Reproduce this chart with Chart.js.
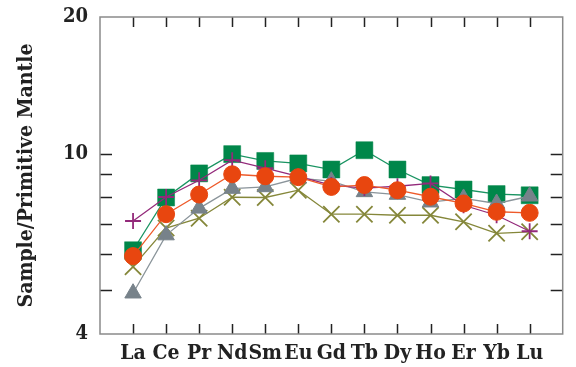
<!DOCTYPE html>
<html><head><meta charset="utf-8">
<script src="https://cdn.jsdelivr.net/npm/chart.js@4"></script>
<style>html,body{margin:0;padding:0;background:#fff}#wrap{width:576px;height:367px}</style>
</head><body><div id="wrap"><canvas id="c" width="576" height="367"></canvas></div>
<script>
const elements = ['La','Ce','Pr','Nd','Sm','Eu','Gd','Tb','Dy','Ho','Er','Yb','Lu'];
const yTickLabels = [4, 10, 20];
const yMinorTicks = [5, 6, 7, 8, 9, 10];
const seriesGreen  = [6.12, 8.00, 9.04, 9.97, 9.63, 9.51, 9.22, 10.17, 9.22, 8.52, 8.33, 8.14, 8.09];
const seriesPurple = [7.10, 8.02, 8.73, 9.67, 9.28, 8.91, 8.52, 8.39, 8.47, 8.59, 7.69, 7.31, 6.74];
const seriesOrange = [5.94, 7.35, 8.12, 9.00, 8.91, 8.87, 8.44, 8.52, 8.30, 8.03, 7.76, 7.44, 7.40];
const seriesGray   = [4.92, 6.61, 7.57, 8.37, 8.44, 8.82, 8.69, 8.23, 8.12, 7.81, 7.96, 7.76, 8.05];
const seriesOlive  = [5.63, 6.85, 7.20, 8.01, 8.00, 8.30, 7.35, 7.35, 7.31, 7.31, 7.07, 6.67, 6.72];

const toPts = arr => arr.map((v, i) => ({x: i + 1, y: v}));
const FONT = "'DejaVu Serif Condensed', 'DejaVu Serif', serif";

const framePlugin = {
  id: 'frame',
  beforeDatasetsDraw(chart) {
    const {ctx, chartArea: a, scales} = chart;
    ctx.save();
    ctx.strokeStyle = '#222';
    ctx.lineWidth = 1.5;
    ctx.beginPath();
    yMinorTicks.forEach(v => {
      const y = Math.round(scales.y.getPixelForValue(v)) + 0.5;
      ctx.moveTo(a.left, y); ctx.lineTo(a.left + 12, y);
      ctx.moveTo(a.right, y); ctx.lineTo(a.right - 12, y);
    });
    elements.forEach((e, i) => {
      const x = Math.round(scales.x.getPixelForValue(i + 1)) + 0.5;
      ctx.moveTo(x, a.bottom); ctx.lineTo(x, a.bottom - 10);
      ctx.moveTo(x, a.top); ctx.lineTo(x, a.top + 10);
    });
    ctx.stroke();
    ctx.strokeStyle = '#8a8a8a';
    ctx.lineWidth = 1.5;
    ctx.strokeRect(a.left, a.top, a.right - a.left, a.bottom - a.top);
    ctx.restore();
  }
};

function ds(label, arr, color, lineColor, style, radius, order, bw) {
  return {
    label, data: toPts(arr), borderColor: lineColor, backgroundColor: color,
    borderWidth: 1.3, pointStyle: style, pointRadius: radius, pointHoverRadius: radius,
    pointBackgroundColor: color, pointBorderColor: color, pointBorderWidth: bw,
    order, tension: 0, clip: false
  };
}

new Chart(document.getElementById('c'), {
  type: 'line',
  data: {
    datasets: [
      ds('Orange', seriesOrange, '#E8460F', '#EE5A2A', 'circle', 8.5, 0, 1),
      ds('Purple', seriesPurple, '#93297A', '#93297A', 'cross', 8, 1, 1.8),
      ds('Gray', seriesGray, '#77828A', '#8A949A', 'triangle', 9.5, 2, 1),
      ds('Olive', seriesOlive, '#85873A', '#85873A', 'crossRot', 11.5, 3, 1.8),
      ds('Green', seriesGreen, '#00874A', '#1A9462', 'rect', 12, 4, 0.5)
    ]
  },
  options: {
    responsive: false,
    devicePixelRatio: 1,
    animation: false,
    layout: {padding: {top: 17, right: 3, left: 0, bottom: 0}},
    plugins: {legend: {display: false}, tooltip: {enabled: false}},
    scales: {
      x: {
        type: 'linear', min: 0, max: 14,
        afterBuildTicks: s => { s.ticks = elements.map((e, i) => ({value: i + 1})); },
        afterFit: s => { s.height = 33; s.paddingLeft = 0; s.paddingRight = 0; },
        grid: {display: false, drawTicks: false},
        border: {display: false},
        ticks: {
          autoSkip: false, maxRotation: 0, padding: 7, color: '#222',
          font: {family: FONT, weight: 'bold', size: 21},
          callback: v => elements[v - 1] || ''
        }
      },
      y: {
        type: 'logarithmic', min: 4, max: 20,
        afterBuildTicks: s => { s.ticks = yTickLabels.map(v => ({value: v})); },
        afterFit: s => { s.width = 100; s.paddingTop = 0; s.paddingBottom = 0; },
        grid: {display: false, drawTicks: false},
        border: {display: false},
        ticks: {
          padding: 12, color: '#222',
          font: {family: FONT, weight: 'bold', size: 20},
          callback: v => String(v)
        },
        title: {
          display: true, text: 'Sample/Primitive Mantle', color: '#222',
          font: {family: FONT, weight: 'bold', size: 21},
          padding: {top: 14, bottom: 0}
        }
      }
    }
  },
  plugins: [framePlugin]
});
</script></body></html>
